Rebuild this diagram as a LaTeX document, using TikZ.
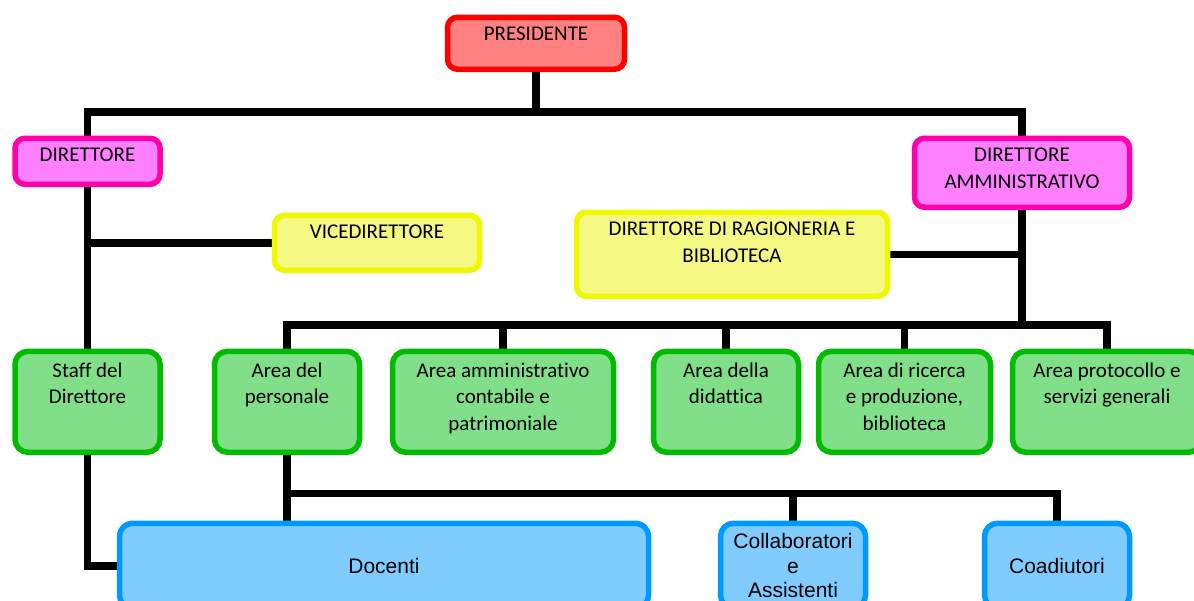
\documentclass[tikz,border=0pt]{standalone}
\usepackage{fontspec}
\setmainfont{Carlito}[Ligatures=NoCommon]
\newfontfamily\arialfont{Liberation Sans}
\usetikzlibrary{backgrounds}
\definecolor{presline}{HTML}{FF0000}
\definecolor{presfill}{HTML}{FF8080}
\definecolor{dirline}{HTML}{FF00AA}
\definecolor{dirfill}{HTML}{FF80FF}
\definecolor{viceline}{HTML}{EEF800}
\definecolor{vicefill}{HTML}{F5F882}
\definecolor{arealine}{HTML}{00BB00}
\definecolor{areafill}{HTML}{80DF88}
\definecolor{staffline}{HTML}{0099FF}
\definecolor{stafffill}{HTML}{80CCFF}
\newcommand{\toplines}[4][23.5pt]{\parbox[c][#3][t]{#2}{\centering\rule{0pt}{#1}#4}}

\begin{document}
\begin{tikzpicture}[x=1pt, y=-1pt,
	box/.style={draw, line width=5.5pt, rounded corners=10pt, inner sep=0pt, anchor=north,
		font=\fontsize{21}{26.5}\selectfont},
	presbox/.style={box, draw=presline, fill=presfill},
	dirbox/.style={box, draw=dirline, fill=dirfill},
	vicebox/.style={box, draw=viceline, fill=vicefill},
	areabox/.style={box, rounded corners=13pt, draw=arealine, fill=areafill},
	staffbox/.style={box, rounded corners=13pt, draw=staffline, fill=stafffill, align=center,
		minimum height=85pt, font=\arialfont\fontsize{21}{24.5}\selectfont},
	link/.style={line width=7.5pt, black}]
	\useasboundingbox (0,0) rectangle (1194,600);
	% vertici
	\node[presbox] (pres) at (536,14.5) {\toplines{177pt}{52pt}{PRESIDENTE}};
	\node[dirbox] (dir) at (87.5,135.5) {\toplines{145pt}{46pt}{DIRETTORE}};
	\node[dirbox] (diramm) at (1022,135.5) {\toplines{215pt}{69pt}{DIRETTORE\\AMMINISTRATIVO}};
	\node[vicebox] (vice) at (377,212.5) {\toplines{205pt}{55pt}{VICEDIRETTORE}};
	\node[vicebox] (ragion) at (732,209.5) {\toplines{311pt}{84pt}{DIRETTORE DI RAGIONERIA E\\BIBLIOTECA}};
	% aree
	\node[areabox] (staff) at (87.5,348.5) {\toplines[26pt]{145pt}{101pt}{Staff del\\Direttore}};
	\node[areabox] (areapers) at (287,348.5) {\toplines[26pt]{145pt}{101pt}{Area del\\personale}};
	\node[areabox] (areaamm) at (503,348.5) {\toplines[26pt]{221pt}{101pt}{Area amministrativo\\contabile e\\patrimoniale}};
	\node[areabox] (areadid) at (726,348.5) {\toplines[26pt]{145pt}{101pt}{Area della\\didattica}};
	\node[areabox] (arearic) at (904.5,348.5) {\toplines[26pt]{172pt}{101pt}{Area di ricerca\\e produzione,\\biblioteca}};
	\node[areabox] (areaprot) at (1107,348.5) {\toplines[26pt]{189pt}{101pt}{Area protocollo e\\servizi generali}};
	% personale
	\node[staffbox, minimum width=529pt] (docenti) at (384,520.5) {Docenti};
	\node[staffbox, minimum width=145pt] (collab) at (793,520.5) {Collaboratori\\e\\Assistenti};
	\node[staffbox, minimum width=145pt] (coad) at (1057,520.5) {Coadiutori};
	\coordinate (topbar) at (536,112);
	\coordinate (areabar) at (1022,325);
	\coordinate (lowbar) at (287,493.5);
	\begin{scope}[on background layer]
		\draw[link] (pres) -- (topbar);
		\draw[link] (dir) |- (topbar) -| (diramm);
		\draw[link] (dir) -- (staff);
		\draw[link] (vice) -- (vice -| dir);
		\draw[link] (staff) |- (docenti);
		\draw[link] (ragion) -- (ragion -| diramm);
		\draw[link] (diramm) -- (areabar);
		\draw[link] (areapers) |- (areabar) -| (areaprot);
		\foreach \n in {areaamm, areadid, arearic}
			\draw[link] (\n) -- (\n |- areabar);
		\draw[link] (areapers) -- (areapers |- docenti);
		\draw[link] (lowbar) -| (coad);
		\draw[link] (collab) -- (collab |- lowbar);
	\end{scope}
\end{tikzpicture}
\end{document}
